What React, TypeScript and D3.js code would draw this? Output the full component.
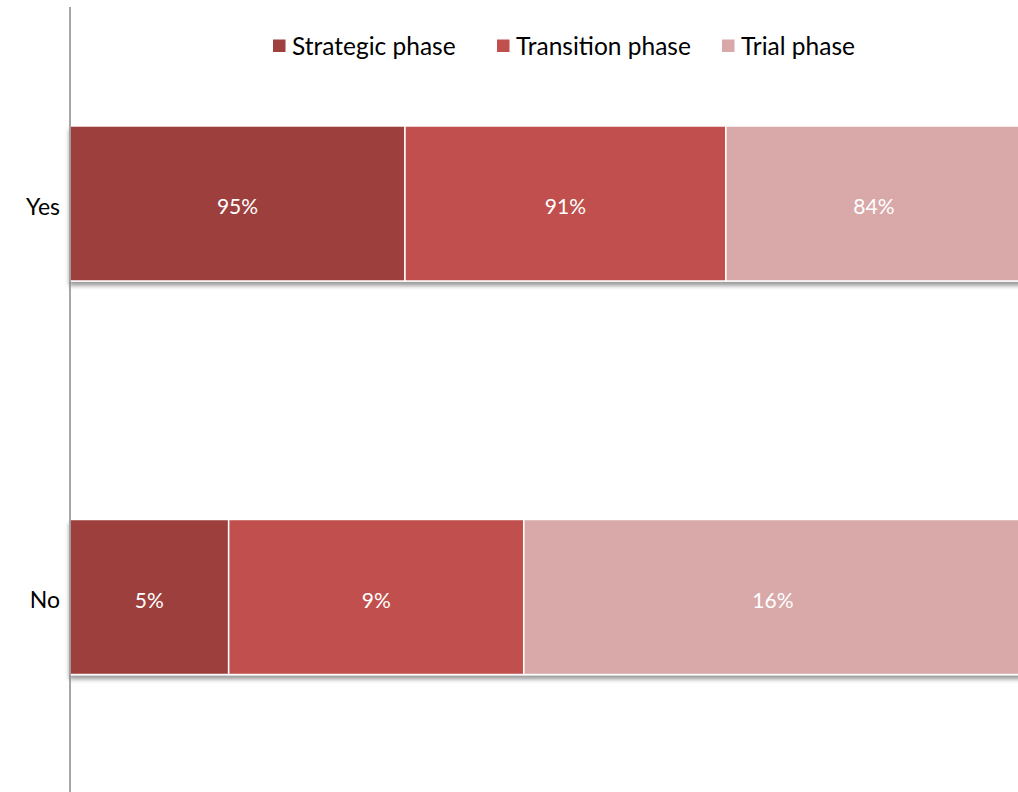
import React from "react";
import * as d3 from "d3";

const categories = ["Yes", "No"];
const seriesNames = ["Strategic phase", "Transition phase", "Trial phase"];
const strategicValues = [95, 5];
const transitionValues = [91, 9.3];
const trialValues = [84, 15.7];
const seriesColors = ["#9D403E", "#C0504D", "#D9A9A9"];

const W = 1018;
const H = 792;

export default function App() {
  const margin = { left: 70, top: 6.75, right: -4, bottom: -1.75 };
  const x = d3.scaleLinear().domain([0, 1]).range([margin.left, W - margin.right]);
  const y = d3
    .scaleBand<string>()
    .domain(categories)
    .range([margin.top, H - margin.bottom])
    .paddingInner(0.606)
    .paddingOuter(0.303);

  const rows = categories.map((c, i) => {
    const vals = [strategicValues[i], transitionValues[i], trialValues[i]];
    const total = d3.sum(vals);
    let acc = 0;
    return {
      cat: c,
      segs: vals.map((v, j) => {
        const x0 = acc / total;
        acc += v;
        return { v, x0, x1: acc / total, color: seriesColors[j] };
      }),
    };
  });

  const font = "Lato, 'Open Sans', sans-serif";
  const legendX = [273, 497, 722];

  return (
    <svg
      width={W}
      height={H}
      style={{ position: "absolute", left: 0, top: 0, background: "#fff" }}
      fontFamily={font}
    >
      <defs>
        <filter id="shadow" x="-5%" y="-10%" width="110%" height="130%">
          <feGaussianBlur in="SourceAlpha" stdDeviation="2" />
          <feOffset dx="0" dy="4" result="b" />
          <feComponentTransfer>
            <feFuncA type="linear" slope="0.4" />
          </feComponentTransfer>
          <feMerge>
            <feMergeNode />
            <feMergeNode in="SourceGraphic" />
          </feMerge>
        </filter>
      </defs>
      {rows.map((r) => (
        <g key={r.cat}>
          <g filter="url(#shadow)">
            {r.segs.map((s, j) => (
              <rect
                key={j}
                x={x(s.x0)}
                y={y(r.cat)!}
                width={x(s.x1) - x(s.x0)}
                height={y.bandwidth()}
                fill={s.color}
                stroke="#fff"
                strokeWidth={1.5}
              />
            ))}
          </g>
          {r.segs.map((s, j) => (
            <text
              key={"t" + j}
              x={(x(s.x0) + x(s.x1)) / 2}
              y={y(r.cat)! + y.bandwidth() / 2 + 2}
              textAnchor="middle"
              dominantBaseline="central"
              fill="#fff"
              fontSize={21}
            >
              {d3.format(".0f")(s.v) + "%"}
            </text>
          ))}
          <text
            x={60}
            y={y(r.cat)! + y.bandwidth() / 2 + 2}
            textAnchor="end"
            dominantBaseline="central"
            fill="#000"
            fontSize={23}
          >
            {r.cat}
          </text>
        </g>
      ))}
      <line x1={70} x2={70} y1={7} y2={H} stroke="#888" strokeWidth={1.5} />
      {seriesNames.map((n, i) => (
        <g key={n}>
          <rect x={legendX[i]} y={39.5} width={12.5} height={12.5} fill={seriesColors[i]} />
          <text x={legendX[i] + 19} y={45.5} dominantBaseline="central" fontSize={24.5} fill="#000">
            {n}
          </text>
        </g>
      ))}
    </svg>
  );
}
